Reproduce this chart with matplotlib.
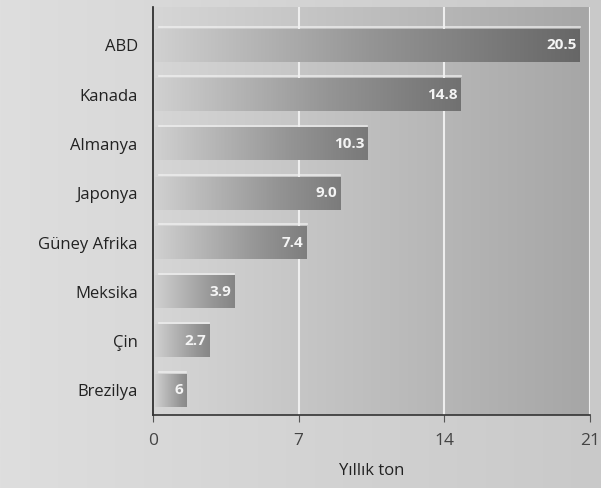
import numpy as np
import matplotlib
matplotlib.use("Agg")
import matplotlib.pyplot as plt
from matplotlib.colors import LinearSegmentedColormap

countries = ["ABD", "Kanada", "Almanya", "Japonya", "Güney Afrika", "Meksika", "Çin", "Brezilya"]
values = [20.5, 14.8, 10.3, 9.0, 7.4, 3.9, 2.7, 1.6]
value_labels = ["20.5", "14.8", "10.3", "9.0", "7.4", "3.9", "2.7", "6"]
xticks = [0, 7, 14, 21]

plt.rcParams["font.family"] = ["Open Sans", "DejaVu Sans"]

fig = plt.figure(figsize=(6.01, 4.88), dpi=100)

# figure background gradient
bg = fig.add_axes([0, 0, 1, 1], zorder=-10)
bg.imshow(np.linspace(0, 1, 256).reshape(1, -1), aspect="auto", extent=[0, 1, 0, 1],
          cmap=LinearSegmentedColormap.from_list("bg", ["#dedede", "#c9c9c9"]))
bg.axis("off")

ax = fig.add_axes([153 / 601, 73 / 488, 437 / 601, 408 / 488])
ax.set_facecolor("none")
ax.set_xlim(0, 21)
ax.set_ylim(len(countries) - 0.5, -0.78)

# plot area gradient
ax.imshow(np.linspace(0, 1, 256).reshape(1, -1), aspect="auto",
          extent=[0, 21, len(countries) - 0.5, -0.78], zorder=0,
          cmap=LinearSegmentedColormap.from_list("pa", ["#d6d6d6", "#a6a6a6"]))

for x in [7, 14, 21]:
    ax.axvline(x, color="#eeeeee", lw=1.5, zorder=1)

bar_cmap = LinearSegmentedColormap.from_list("bar", ["#d0d0d0", "#959595", "#666666"])
h = 0.66
for i, (v, lab) in enumerate(zip(values, value_labels)):
    grad = np.linspace(0, 1, 256).reshape(1, -1) * (0.6 + 0.4 * v / 21)
    ax.imshow(grad, aspect="auto", extent=[0.1, v, i + h / 2, i - h / 2],
              cmap=bar_cmap, vmin=0, vmax=1, zorder=2)
    # light highlight line above bar
    ax.plot([0.3, v], [i - h / 2 - 0.04, i - h / 2 - 0.04], color="#f2f2f2", lw=1.2, alpha=0.8, zorder=2)
    ax.text(v - 0.15, i, lab, ha="right", va="center", color="#f4f4f4",
            fontsize=11, fontweight="bold", zorder=3)

ax.set_yticks(range(len(countries)))
ax.set_yticklabels(countries, fontsize=12, color="#222222")
ax.set_xticks(xticks)
ax.set_xticklabels([str(t) for t in xticks], fontsize=12.5, color="#444444")
ax.tick_params(axis="y", length=0, pad=11)
ax.tick_params(axis="x", length=5, color="#555555", pad=8)
ax.set_xlabel("Yıllık ton", fontsize=12, color="#222222", labelpad=10)

for s in ["top", "right"]:
    ax.spines[s].set_visible(False)
ax.spines["left"].set_color("#222222")
ax.spines["bottom"].set_color("#333333")
ax.spines["left"].set_linewidth(1.2)
ax.spines["bottom"].set_linewidth(1.2)

fig.savefig("out.png", dpi=100)
